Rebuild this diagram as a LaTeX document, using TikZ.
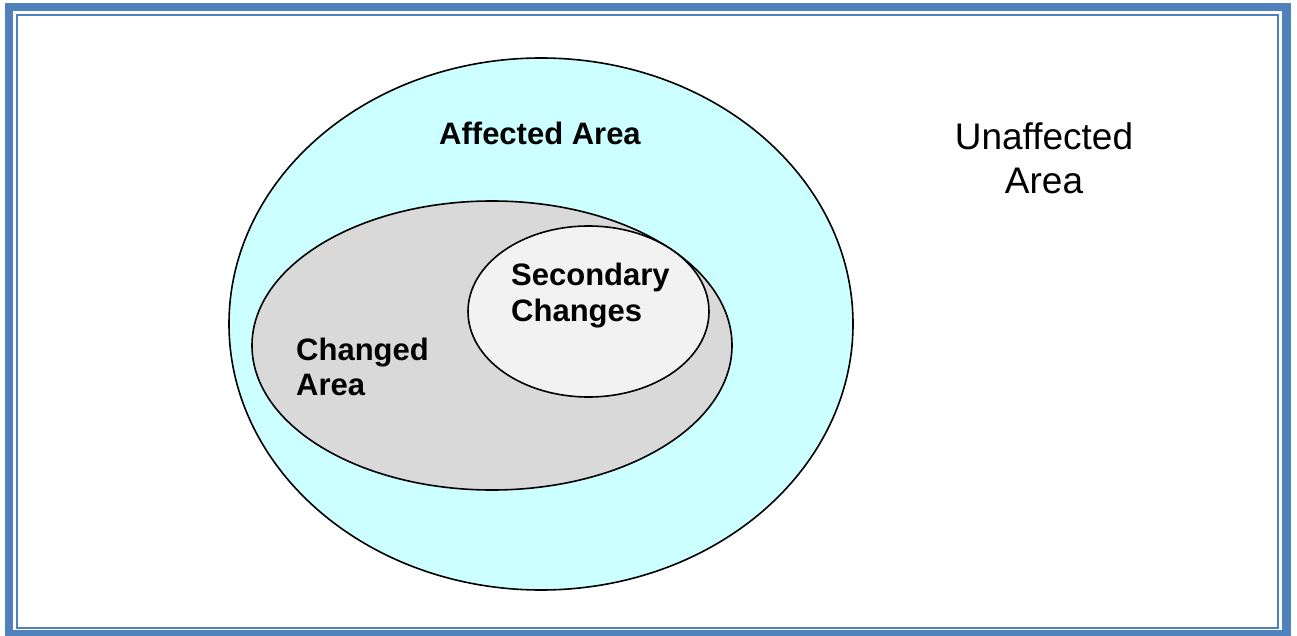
\documentclass[tikz,border=0pt]{standalone}
\usepackage{fontspec}
\setmainfont{Liberation Sans}
\definecolor{frameblue}{HTML}{4F81BD}
\definecolor{affectfill}{HTML}{CCFFFF}
\definecolor{changefill}{HTML}{D9D9D9}
\definecolor{secondfill}{HTML}{F2F2F2}
\begin{document}
\begin{tikzpicture}[x=1pt,y=-1pt,
  region/.style={draw=black,line width=1.6pt},
  boldlabel/.style={inner sep=0pt,font=\fontsize{31}{35}\selectfont\bfseries},
  plainlabel/.style={inner sep=0pt,font=\fontsize{37}{44.3}\selectfont}]
  \useasboundingbox[fill=white] (0,0) rectangle (1297,636);
  % page frame: thick outer band and thin inner rule
  \draw[frameblue,line width=8.5pt] (9,7) rectangle (1286.5,634);
  \draw[frameblue,line width=2.5pt] (17,15) rectangle (1278,628);
  % nested regions
  \path[region,fill=affectfill] (541,324) ellipse [x radius=312,y radius=266];
  \path[region,fill=changefill] (492,345.5) ellipse [x radius=240,y radius=144.5];
  \path[region,fill=secondfill] (588.5,311.5) ellipse [x radius=120.5,y radius=85.5];
  % labels (base anchor sits on the last line)
  \node[boldlabel,anchor=base] (affected) at (540,145) {Affected Area};
  \node[plainlabel,anchor=base,align=center] (unaffected) at (1044,193.6) {Unaffected\\Area};
  \node[boldlabel,anchor=base west,align=left] (changed) at (296,395.7) {Changed\\Area};
  \node[boldlabel,anchor=base west,align=left,font=\fontsize{31}{36.7}\selectfont\bfseries] (secondary) at (511,321.7) {Secondary\\Changes};
\end{tikzpicture}
\end{document}
